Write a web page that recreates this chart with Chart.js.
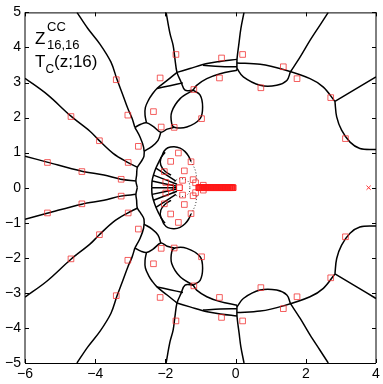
<!DOCTYPE html>
<html>
<head>
<meta charset="utf-8">
<script src="https://cdn.jsdelivr.net/npm/chart.js@4"></script>
<style>
  html, body { margin: 0; background: #fff; }
</style>
</head>
<body>
<canvas id="chart" width="383" height="384"></canvas>
<script>
// tick values
const xTicks = [-6, -4, -2, 0, 2, 4];
const yTicks = [-5, -4, -3, -2, -1, 0, 1, 2, 3, 4, 5];

// black boundary curves, upper half plane
const upperCurves = [
  [[-4.52,5.00],[-4.21,4.54],[-3.86,4.09],[-3.55,3.58],[-3.38,3.09],[-3.21,2.64],[-3.07,2.26],[-2.95,1.98],[-2.87,1.72]],
  [[-2.87,1.72],[-2.72,1.44],[-2.62,1.15],[-2.61,0.90],[-2.70,0.73],[-2.80,0.58],[-2.82,0.36],[-2.84,0.19],[-2.80,0]],
  [[-6.00,3.12],[-5.37,2.66],[-4.69,2.04],[-4.15,1.61],[-3.89,1.35],[-3.49,0.98],[-3.09,0.73],[-2.79,0.58]],
  [[-6.00,0.90],[-5.37,0.73],[-4.38,0.47],[-3.75,0.36],[-3.27,0.24],[-2.84,0.19]],
  [[-2.87,1.72],[-2.70,1.81],[-2.54,1.85],[-2.35,1.75],[-2.13,1.58],[-1.95,1.67],[-1.75,1.72]],
  [[-2.13,1.58],[-2.21,1.35],[-2.38,1.18],[-2.61,1.04]],
  [[-2.54,1.85],[-2.58,2.07],[-2.57,2.29],[-2.47,2.52],[-2.38,2.66],[-2.24,2.83],[-1.95,3.06],[-1.67,3.29]],
  [[-2.24,2.83],[-1.87,2.91],[-1.50,2.99]],
  [[-1.98,5.00],[-1.87,4.40],[-1.78,4.06],[-1.73,3.69],[-1.67,3.29],[-1.56,3.03],[-1.44,2.78],[-1.21,2.78]],
  [[-1.67,3.29],[-1.30,3.40],[-0.81,3.54],[-0.44,3.60],[0.04,3.66]],
  [[-0.93,3.49],[-0.44,3.46],[0.04,3.45]],
  [[0.04,3.35],[-0.44,3.25],[-0.82,3.11],[-1.11,2.92],[-1.21,2.78]],
  [[-1.21,2.78],[-1.58,2.54],[-1.82,2.16],[-1.82,1.83],[-1.73,1.72],[-1.39,1.73],[-1.01,1.97],[-0.94,2.30],[-1.01,2.64],[-1.21,2.78]],
  [[0.24,5.00],[0.15,4.54],[0.10,4.15],[0.04,3.66],[0.04,3.35]],
  [[0.04,3.56],[0.70,3.52],[1.36,3.37],[2.12,3.11],[2.50,2.87],[2.83,2.46]],
  [[0.04,3.40],[0.22,3.16],[0.70,2.92],[1.17,2.92],[1.46,3.06],[1.56,3.30]],
  [[1.56,3.30],[1.84,3.73],[2.12,4.20],[2.40,4.63],[2.64,5.00]],
  [[2.83,2.46],[3.45,2.83],[4.00,3.16]],
  [[2.83,2.46],[2.88,2.02],[3.02,1.64],[3.26,1.30],[3.54,1.12],[4.00,1.09]],
  // fan near -2
  [[-2.10,0.90],[-2.04,1.04],[-1.93,1.14],[-1.75,1.17],[-1.58,1.13],[-1.44,1.03],[-1.34,0.90],[-1.27,0.75]],
  [[-2.10,0.90],[-2.18,0.75],[-2.27,0.56],[-2.34,0.36],[-2.38,0.19],[-2.39,0]],
  [[-2.01,1.01],[-2.13,0.84],[-2.13,0.64],[-2.01,0.47],[-1.84,0.36]],
  [[-2.27,0.56],[-1.70,0.19]],
  [[-2.34,0.36],[-1.67,0.10]],
  [[-2.38,0.19],[-1.67,0.04]],
  [[-2.39,0],[-1.67,0]]
];

// same curves, lower half plane
const lowerCurves = [
  [[-4.52,-5.00],[-4.21,-4.54],[-3.86,-4.09],[-3.55,-3.58],[-3.38,-3.09],[-3.21,-2.64],[-3.07,-2.26],[-2.95,-1.98],[-2.87,-1.72]],
  [[-2.87,-1.72],[-2.72,-1.44],[-2.62,-1.15],[-2.61,-0.90],[-2.70,-0.73],[-2.80,-0.58],[-2.82,-0.36],[-2.84,-0.19],[-2.80,0]],
  [[-6.00,-3.12],[-5.37,-2.66],[-4.69,-2.04],[-4.15,-1.61],[-3.89,-1.35],[-3.49,-0.98],[-3.09,-0.73],[-2.79,-0.58]],
  [[-6.00,-0.90],[-5.37,-0.73],[-4.38,-0.47],[-3.75,-0.36],[-3.27,-0.24],[-2.84,-0.19]],
  [[-2.87,-1.72],[-2.70,-1.81],[-2.54,-1.85],[-2.35,-1.75],[-2.13,-1.58],[-1.95,-1.67],[-1.75,-1.72]],
  [[-2.13,-1.58],[-2.21,-1.35],[-2.38,-1.18],[-2.61,-1.04]],
  [[-2.54,-1.85],[-2.58,-2.07],[-2.57,-2.29],[-2.47,-2.52],[-2.38,-2.66],[-2.24,-2.83],[-1.95,-3.06],[-1.67,-3.29]],
  [[-2.24,-2.83],[-1.87,-2.91],[-1.50,-2.99]],
  [[-1.98,-5.00],[-1.87,-4.40],[-1.78,-4.06],[-1.73,-3.69],[-1.67,-3.29],[-1.56,-3.03],[-1.44,-2.78],[-1.21,-2.78]],
  [[-1.67,-3.29],[-1.30,-3.40],[-0.81,-3.54],[-0.44,-3.60],[0.04,-3.66]],
  [[-0.93,-3.49],[-0.44,-3.46],[0.04,-3.45]],
  [[0.04,-3.35],[-0.44,-3.25],[-0.82,-3.11],[-1.11,-2.92],[-1.21,-2.78]],
  [[-1.21,-2.78],[-1.58,-2.54],[-1.82,-2.16],[-1.82,-1.83],[-1.73,-1.72],[-1.39,-1.73],[-1.01,-1.97],[-0.94,-2.30],[-1.01,-2.64],[-1.21,-2.78]],
  [[0.24,-5.00],[0.15,-4.54],[0.10,-4.15],[0.04,-3.66],[0.04,-3.35]],
  [[0.04,-3.56],[0.70,-3.52],[1.36,-3.37],[2.12,-3.11],[2.50,-2.87],[2.83,-2.46]],
  [[0.04,-3.40],[0.22,-3.16],[0.70,-2.92],[1.17,-2.92],[1.46,-3.06],[1.56,-3.30]],
  [[1.56,-3.30],[1.84,-3.73],[2.12,-4.20],[2.40,-4.63],[2.64,-5.00]],
  [[2.83,-2.46],[3.45,-2.83],[4.00,-3.16]],
  [[2.83,-2.46],[2.88,-2.02],[3.02,-1.64],[3.26,-1.30],[3.54,-1.12],[4.00,-1.09]],
  [[-2.10,-0.90],[-2.04,-1.04],[-1.93,-1.14],[-1.75,-1.17],[-1.58,-1.13],[-1.44,-1.03],[-1.34,-0.90],[-1.27,-0.75]],
  [[-2.10,-0.90],[-2.18,-0.75],[-2.27,-0.56],[-2.34,-0.36],[-2.38,-0.19],[-2.39,0]],
  [[-2.01,-1.01],[-2.13,-0.84],[-2.13,-0.64],[-2.01,-0.47],[-1.84,-0.36]],
  [[-2.27,-0.56],[-1.70,-0.19]],
  [[-2.34,-0.36],[-1.67,-0.10]],
  [[-2.38,-0.19],[-1.67,-0.04]]
];

// faint dotted pieces inside the fan
const dottedCurves = [
  [[-1.80,0],[-1.75,0.17],[-1.62,0.25],[-1.45,0.24],[-1.33,0.15],[-1.30,0]],
  [[-1.80,0],[-1.75,-0.17],[-1.62,-0.25],[-1.45,-0.24],[-1.33,-0.15],[-1.30,0]],
  [[-1.27,0.75],[-1.15,0.50],[-1.10,0.21]],
  [[-1.27,-0.75],[-1.15,-0.50],[-1.10,-0.21]]
];

// red square markers
const squaresUpper = [
  [-3.40,3.08],[-4.69,2.03],[-3.88,1.34],[-3.07,2.07],[-2.77,1.18],[-3.06,0.72],[-5.36,0.72],[-4.38,0.46],[-3.26,0.24],
  [-1.70,3.80],[-2.15,3.13],[-2.34,2.17],[-2.12,1.73],[-1.75,1.72],[-1.19,2.80],[-0.97,1.97],[-0.46,3.13],[-0.40,3.70],
  [0.20,3.80],[0.72,2.85],[1.36,3.45],[1.75,3.11],[2.71,2.57],[3.13,1.40],
  [-1.63,0.99],[-1.85,0.75],[-1.27,0.74],[-2.03,0.46],[-1.46,0.48],[-1.99,0.15],[-1.51,0.21],[-1.21,0.23],[-1.14,0.14],[-0.92,0.07]
];
const squaresLower = [
  [-3.40,-3.08],[-4.69,-2.03],[-3.88,-1.34],[-3.07,-2.07],[-2.77,-1.18],[-3.06,-0.72],[-5.36,-0.72],[-4.38,-0.46],[-3.26,-0.24],
  [-1.70,-3.80],[-2.15,-3.13],[-2.34,-2.17],[-2.12,-1.73],[-1.75,-1.72],[-1.19,-2.80],[-0.97,-1.97],[-0.46,-3.13],[-0.40,-3.70],
  [0.20,-3.80],[0.72,-2.85],[1.36,-3.45],[1.75,-3.11],[2.71,-2.57],[3.13,-1.40],
  [-1.63,-0.99],[-1.85,-0.75],[-1.27,-0.74],[-2.03,-0.46],[-1.46,-0.48],[-1.99,-0.15],[-1.51,-0.21],[-1.21,-0.23],[-1.14,-0.14],[-0.92,-0.07]
];
// squares sitting on the real axis (they pile up into a solid bar near 0)
const squaresAxis = [-1.85, -1.60, -1.05, -1.03, -1.01, -0.99, -0.97, -0.95, -0.93, -0.91, -0.89, -0.87, -0.85,
  -0.83, -0.81, -0.79, -0.77, -0.75, -0.73, -0.71, -0.69, -0.67, -0.65, -0.63, -0.61, -0.59, -0.57, -0.55,
  -0.53, -0.51, -0.49, -0.47, -0.45, -0.43, -0.41, -0.39, -0.37, -0.35, -0.33, -0.31, -0.29, -0.27, -0.25,
  -0.23, -0.21, -0.19, -0.17, -0.15, -0.13, -0.11, -0.09, -0.07];
const crossMark = [[3.79, 0]];

const toPts = arr => arr.map(([x, y]) => ({ x, y }));

const datasets = [];
[...upperCurves, ...lowerCurves].forEach(c => {
  datasets.push({ data: toPts(c), showLine: true, borderColor: '#000', borderWidth: 1.5,
    pointRadius: 0, tension: 0.35, order: 3 });
});
dottedCurves.forEach(c => {
  datasets.push({ data: toPts(c), showLine: true, borderColor: '#333', borderWidth: 1,
    borderDash: [1, 2], pointRadius: 0, tension: 0.35, order: 3 });
});
datasets.push({
  data: toPts([...squaresUpper, ...squaresLower]),
  showLine: false, pointStyle: 'rect', pointRadius: 4, borderWidth: 1,
  borderColor: 'rgba(240,40,40,0.75)', backgroundColor: 'rgba(0,0,0,0)', order: 1
});
datasets.push({
  data: toPts(squaresAxis.map(x => [x, 0])),
  showLine: false, pointStyle: 'rect', pointRadius: 4, borderWidth: 1,
  borderColor: '#ff1a1a', backgroundColor: 'rgba(0,0,0,0)', order: 0
});
datasets.push({
  data: toPts(crossMark), showLine: false, pointStyle: 'crossRot', pointRadius: 3,
  borderWidth: 1, borderColor: '#f33', order: 1
});

const tickFmt = v => (v < 0 ? '\u2212' + (-v) : '' + v);

// box, inward tick marks and the label text
const frame = {
  id: 'frame',
  afterDraw(chart) {
    const { ctx, chartArea: a, scales: { x, y } } = chart;
    ctx.save();
    ctx.strokeStyle = '#000';
    ctx.lineWidth = 1;
    ctx.beginPath();
    ctx.moveTo(a.left, a.top + 0.5); ctx.lineTo(a.right, a.top + 0.5);
    ctx.moveTo(a.left, a.bottom + 0.5); ctx.lineTo(a.right, a.bottom + 0.5);
    ctx.moveTo(a.left, a.top); ctx.lineTo(a.left, a.bottom);
    ctx.moveTo(a.right, a.top); ctx.lineTo(a.right, a.bottom);
    xTicks.forEach(v => {
      const px = Math.round(x.getPixelForValue(v)) + 0.5;
      ctx.moveTo(px, a.bottom); ctx.lineTo(px, a.bottom - 4);
      ctx.moveTo(px, a.top); ctx.lineTo(px, a.top + 4);
    });
    yTicks.forEach(v => {
      const py = Math.round(y.getPixelForValue(v)) + 0.5;
      ctx.moveTo(a.left, py); ctx.lineTo(a.left + 4, py);
      ctx.moveTo(a.right, py); ctx.lineTo(a.right - 4, py);
    });
    ctx.stroke();

    ctx.fillStyle = '#000';
    ctx.textBaseline = 'alphabetic';
    ctx.font = '17px "Liberation Sans", Arial, sans-serif';
    ctx.fillText('Z', 35, 44);
    ctx.fillText('T', 35, 67);
    ctx.fillText('(z;16)', 54, 67);
    ctx.font = '13px "Liberation Sans", Arial, sans-serif';
    ctx.fillText('CC', 47, 31);
    ctx.fillText('16,16', 47, 49);
    ctx.font = '12px "Liberation Sans", Arial, sans-serif';
    ctx.fillText('C', 45.5, 73);
    ctx.restore();
  }
};

new Chart(document.getElementById('chart').getContext('2d'), {
  type: 'scatter',
  data: { datasets },
  options: {
    responsive: false,
    animation: false,
    layout: { padding: { top: 12, right: 7, left: 0, bottom: 0 } },
    plugins: { legend: { display: false }, tooltip: { enabled: false } },
    scales: {
      x: {
        min: -6, max: 4,
        afterBuildTicks: s => { s.ticks = xTicks.map(v => ({ value: v })); },
        ticks: { callback: tickFmt, color: '#000', padding: 3, maxRotation: 0,
          font: { size: 14, family: '"Liberation Sans", Arial, sans-serif' } },
        grid: { display: false, drawTicks: false },
        border: { display: false },
        afterFit: s => { s.height = 21; }
      },
      y: {
        min: -5, max: 5,
        afterBuildTicks: s => { s.ticks = yTicks.map(v => ({ value: v })); },
        ticks: { callback: tickFmt, color: '#000', padding: 4,
          font: { size: 14, family: '"Liberation Sans", Arial, sans-serif' } },
        grid: { display: false, drawTicks: false },
        border: { display: false },
        afterFit: s => { s.width = 25; }
      }
    }
  },
  plugins: [frame]
});
</script>
</body>
</html>
